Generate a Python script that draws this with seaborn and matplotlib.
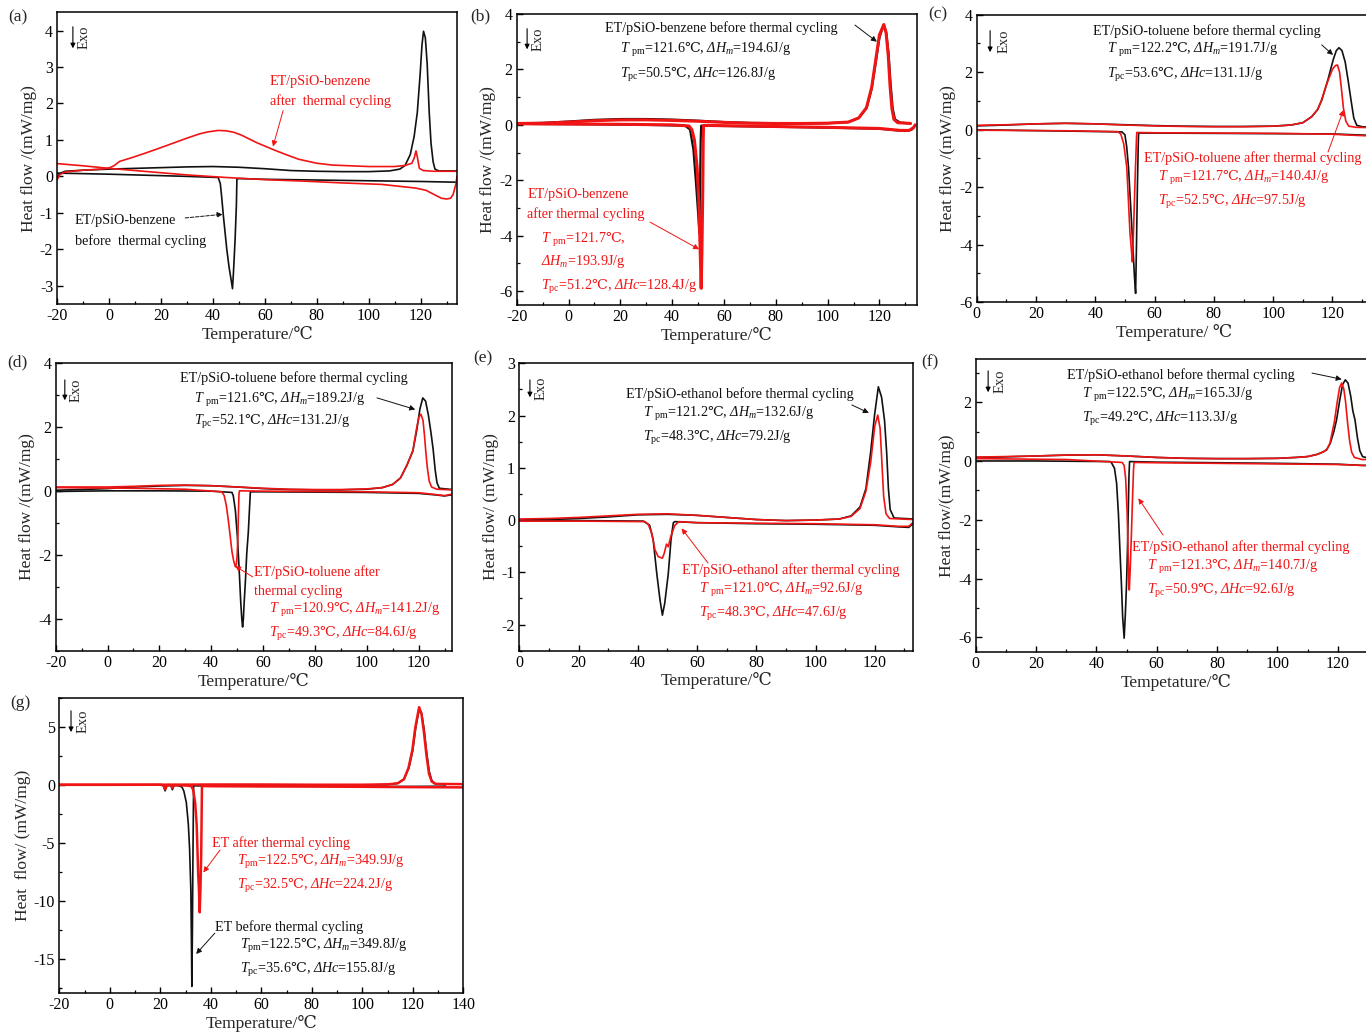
import matplotlib
matplotlib.use("Agg")
import matplotlib.pyplot as plt
from matplotlib.ticker import MultipleLocator
import seaborn as sns

# ---------------------------------------------------------------------------
# DSC traces, (temperature in degC, heat flow in mW/mg).
# "heat" = heating scan (melting peak up), "cool" = cooling scan (crystallisation dip).
# ---------------------------------------------------------------------------

# (a) ET/pSiO-benzene
a_black_heat = [(-20, -0.02), (-19, 0.08), (-17, 0.14), (-10, 0.17), (0, 0.2), (10, 0.22), (20, 0.24),
                (30, 0.26), (40, 0.27), (50, 0.25), (60, 0.21), (70, 0.16), (80, 0.14), (90, 0.13),
                (100, 0.13), (108, 0.15), (112, 0.2), (114, 0.3), (116, 0.6), (117.5, 1.1), (118.7, 1.75),
                (119.8, 2.8), (120.5, 3.6), (121.1, 3.98), (121.8, 3.8), (122.5, 3.1), (123.3, 1.75),
                (124.0, 0.9), (124.8, 0.4), (125.5, 0.2), (127, 0.15), (134, 0.15)]
a_black_cool = [(134, -0.16), (120, -0.14), (100, -0.12), (80, -0.1), (60, -0.08), (50, -0.06), (49.2, -0.07),
                (49.0, -0.8), (48.5, -1.73), (47.9, -2.6), (47.5, -3.08), (47.0, -2.85), (46.2, -2.5),
                (45.3, -2.0), (44.0, -1.09), (43.3, -0.54), (42.8, -0.2), (42.0, -0.03), (30, 0.0),
                (10, 0.04), (0, 0.06), (-20, 0.09)]
a_red_heat = [(-20, -0.08), (-19, 0.05), (-17, 0.12), (-10, 0.17), (-3, 0.2), (0, 0.23), (2, 0.3), (4, 0.41),
              (9, 0.52), (14, 0.64), (19.6, 0.78), (25, 0.92), (30, 1.05), (35, 1.17), (38, 1.22), (42, 1.26),
              (45, 1.25), (48, 1.21), (51, 1.13), (54.4, 1.01), (57, 0.92), (60, 0.83), (63, 0.74), (68, 0.6),
              (73, 0.47), (80, 0.36), (86, 0.31), (100, 0.27), (110, 0.27), (114, 0.3), (116.6, 0.36),
              (117.5, 0.5), (118.2, 0.7), (118.8, 0.5), (119.5, 0.22), (121, 0.16), (125, 0.14), (134, 0.14)]
a_red_cool = [(134, 0.0), (133.6, -0.2), (132.5, -0.5), (131.5, -0.6), (130, -0.62), (128, -0.6), (125, -0.49),
              (122, -0.38), (118, -0.32), (105, -0.22), (90, -0.18), (75, -0.13), (60, -0.09), (45, -0.03),
              (30, 0.04), (15, 0.13), (0, 0.22), (-10, 0.29), (-20, 0.35)]

# (b) ET/pSiO-benzene
b_black_heat = [(-20, 0.05), (-10, 0.07), (0, 0.12), (10, 0.18), (20, 0.21), (30, 0.21), (40, 0.19), (50, 0.15),
                (60, 0.1), (70, 0.07), (80, 0.06), (90, 0.05), (100, 0.06), (108, 0.1), (112, 0.25), (115, 0.6),
                (117, 1.3), (118.5, 2.2), (120, 3.15), (121.6, 3.6), (122.6, 3.35), (123.5, 2.6), (124.3, 1.5),
                (125.1, 0.6), (126, 0.2), (128, 0.08), (132, 0.05)]
b_black_cool = [(133.5, -0.05), (132.5, -0.17), (130, -0.22), (127, -0.2), (120, -0.14), (100, -0.1), (80, -0.07),
                (60, -0.04), (51.2, -0.03), (51.0, -0.6), (50.8, -2.0), (50.5, -3.9), (50.1, -3.3), (49.2, -2.09),
                (48.2, -0.89), (46.9, -0.17), (45, -0.03), (30, 0.0), (10, 0.02), (-10, 0.03), (-20, 0.04)]
b_red_heat = [(-20, 0.05), (-10, 0.06), (0, 0.1), (10, 0.15), (20, 0.18), (30, 0.18), (40, 0.16), (50, 0.13),
              (60, 0.09), (70, 0.06), (80, 0.05), (90, 0.05), (100, 0.06), (108, 0.1), (112, 0.25), (115, 0.62),
              (117, 1.35), (118.5, 2.3), (120, 3.25), (121.7, 3.62), (122.6, 3.3), (123.4, 2.5), (124.1, 1.4),
              (124.8, 0.6), (125.6, 0.2), (127, 0.08), (132, 0.05)]
b_red_cool = [(133.8, 0.0), (133.2, -0.1), (131.5, -0.2), (128, -0.2), (120, -0.13), (100, -0.09), (80, -0.06),
              (60, -0.03), (52.1, -0.02), (52.0, -0.5), (51.8, -2.5), (51.5, -4.5), (51.2, -5.9), (50.8, -4.5),
              (50.3, -2.8), (49.6, -1.5), (48.6, -0.55), (47.6, -0.17), (46.5, -0.04), (40, 0.0), (20, 0.02),
              (0, 0.03), (-20, 0.04)]

# (c) ET/pSiO-toluene
c_black_heat = [(0, 0.13), (10, 0.16), (20, 0.2), (30, 0.22), (40, 0.2), (50, 0.17), (60, 0.14), (70, 0.12),
                (80, 0.11), (90, 0.11), (100, 0.12), (106, 0.16), (110, 0.24), (113, 0.45), (115, 0.7),
                (116.4, 1.03), (118.5, 1.75), (120.3, 2.45), (121.3, 2.75), (122.2, 2.85), (123.2, 2.75),
                (124.3, 2.35), (125.3, 1.7), (126.3, 1.0), (127.2, 0.4), (128.2, 0.15), (130, 0.1), (133, 0.09)]
c_black_cool = [(133, -0.2), (125, -0.17), (120, -0.15), (100, -0.14), (80, -0.13), (60, -0.12), (54.6, -0.12),
                (54.5, -0.5), (54.2, -2.0), (53.9, -4.0), (53.6, -5.7), (53.2, -5.1), (52.6, -3.9), (51.9, -2.6),
                (51.2, -1.3), (50.6, -0.6), (50.0, -0.18), (49.0, -0.08), (30, -0.05), (10, -0.02), (0, -0.01)]
c_red_heat = [(0, 0.15), (10, 0.17), (20, 0.2), (30, 0.22), (40, 0.2), (50, 0.16), (60, 0.13), (70, 0.11),
              (80, 0.1), (90, 0.1), (100, 0.12), (106, 0.16), (110, 0.24), (113, 0.45), (115, 0.7), (116.2, 1.0),
              (118.3, 1.65), (120, 2.1), (121.0, 2.23), (121.7, 2.25), (122.4, 2.0), (123.0, 1.45), (123.7, 0.75),
              (124.5, 0.3), (125.5, 0.12), (128, 0.08), (133, 0.07)]
c_red_cool = [(133, -0.22), (128, -0.2), (120, -0.16), (100, -0.13), (80, -0.12), (60, -0.11), (54.0, -0.1),
              (53.9, -0.3), (53.4, -1.8), (52.9, -3.5), (52.5, -4.6), (52.2, -4.2), (51.7, -3.6), (51.1, -2.3),
              (50.6, -1.29), (49.6, -0.5), (48.6, -0.15), (47.5, -0.07), (30, -0.04), (0, -0.02)]

# (d) ET/pSiO-toluene
d_black_heat = [(-20, 0.02), (-10, 0.04), (0, 0.07), (10, 0.12), (20, 0.15), (30, 0.17), (40, 0.16), (50, 0.12),
                (60, 0.07), (70, 0.04), (80, 0.03), (90, 0.03), (100, 0.05), (106, 0.1), (110, 0.2), (113, 0.4),
                (115.5, 0.8), (117.8, 1.25), (119.3, 1.9), (120.5, 2.55), (121.6, 2.9), (122.7, 2.8),
                (123.8, 2.35), (124.8, 1.8), (125.6, 1.3), (126.4, 0.65), (127.1, 0.25), (128, 0.08), (133, 0.04)]
d_black_cool = [(133, -0.12), (130, -0.16), (127, -0.13), (120, -0.08), (100, -0.05), (80, -0.04), (60, -0.03),
                (55.1, -0.03), (54.8, -0.5), (54.3, -1.3), (53.7, -1.96), (53.2, -2.8), (52.7, -3.5), (52.4, -4.0),
                (52.1, -4.25), (51.8, -4.0), (51.4, -3.5), (50.8, -2.5), (50.1, -1.44), (49.3, -0.6),
                (48.5, -0.15), (48.0, -0.05), (40, -0.01), (20, 0.0), (0, 0.0), (-20, -0.02)]
d_red_heat = [(-20, 0.12), (-10, 0.12), (0, 0.12), (10, 0.14), (20, 0.17), (30, 0.18), (40, 0.16), (50, 0.12),
              (60, 0.08), (70, 0.05), (80, 0.04), (90, 0.04), (100, 0.06), (106, 0.1), (110, 0.2), (113, 0.4),
              (115.5, 0.8), (117.8, 1.25), (119.1, 1.9), (120.1, 2.3), (120.9, 2.39), (121.7, 2.2), (122.3, 1.7),
              (122.8, 1.2), (123.4, 0.7), (124.1, 0.3), (125, 0.12), (127, 0.05), (133, 0.03)]
d_red_cool = [(133, -0.1), (130, -0.15), (127, -0.12), (120, -0.06), (100, -0.03), (80, -0.02), (60, -0.01),
              (50.9, 0.0), (50.7, -0.1), (50.5, -0.7), (50.3, -1.4), (50.0, -2.0), (49.7, -2.3), (49.3, -2.37),
              (48.7, -2.2), (48.0, -1.9), (47.3, -1.4), (46.6, -0.92), (45.8, -0.45), (45.0, -0.15),
              (44.1, -0.03), (30, 0.05), (10, 0.08), (-20, 0.1)]

# (e) ET/pSiO-ethanol
e_black_heat = [(0, 0.0), (10, 0.01), (20, 0.03), (30, 0.06), (40, 0.1), (50, 0.11), (60, 0.09), (70, 0.05),
                (80, 0.01), (90, -0.01), (100, 0.0), (108, 0.02), (112, 0.08), (115, 0.25), (117, 0.6),
                (118.6, 1.3), (119.9, 2.0), (121.2, 2.55), (122.3, 2.35), (123.3, 1.9), (124.0, 1.3),
                (124.6, 0.6), (125.2, 0.2), (126.5, 0.04), (133, 0.02)]
e_black_cool = [(133, -0.06), (131.5, -0.14), (128, -0.13), (120, -0.1), (100, -0.08), (80, -0.07), (60, -0.05),
                (52.5, -0.03), (52.0, -0.05), (51.2, -0.38), (50.3, -1.02), (49.1, -1.59), (48.3, -1.82),
                (47.5, -1.53), (46.4, -1.02), (45.2, -0.38), (44.0, -0.1), (41.9, -0.02), (20, -0.01), (0, -0.01)]
e_red_heat = [(0, 0.02), (10, 0.03), (20, 0.05), (30, 0.08), (40, 0.11), (50, 0.12), (60, 0.09), (70, 0.05),
              (80, 0.01), (90, -0.01), (100, 0.0), (108, 0.02), (112, 0.07), (115, 0.22), (117, 0.55),
              (118.6, 1.1), (120.0, 1.8), (121.0, 2.01), (121.8, 1.75), (122.4, 1.1), (123, 0.45), (123.8, 0.12),
              (125, 0.03), (133, 0.01)]
e_red_cool = [(133, -0.04), (131.5, -0.12), (128, -0.12), (120, -0.09), (100, -0.07), (80, -0.06), (60, -0.05),
              (53.9, -0.03), (52.5, -0.1), (51.1, -0.32), (50.3, -0.51), (49.7, -0.46), (48.9, -0.64),
              (48.3, -0.73), (46.9, -0.7), (45.8, -0.57), (44.7, -0.25), (43.5, -0.08), (42.4, -0.03),
              (20, -0.02), (0, -0.02)]

# (f) ET/pSiO-ethanol
f_black_heat = [(0, 0.12), (10, 0.14), (20, 0.17), (30, 0.2), (40, 0.21), (50, 0.17), (60, 0.12), (70, 0.09),
                (80, 0.08), (90, 0.08), (100, 0.09), (106, 0.12), (110, 0.15), (113, 0.22), (115, 0.3),
                (116.3, 0.38), (117.5, 0.6), (118.7, 1.0), (119.6, 1.4), (120.7, 2.1), (121.6, 2.6),
                (122.5, 2.76), (123.4, 2.65), (124.3, 2.2), (125.0, 1.7), (125.7, 1.4), (126.5, 0.8),
                (127.3, 0.35), (128.2, 0.15), (130, 0.1), (133, 0.08)]
f_black_cool = [(133, -0.15), (128, -0.15), (120, -0.11), (100, -0.08), (80, -0.06), (60, -0.04), (51.0, -0.02),
                (50.8, -0.5), (50.6, -1.5), (50.3, -3.0), (50.0, -4.16), (49.6, -5.2), (49.2, -6.03), (48.7, -5.3),
                (48.3, -4.2), (47.8, -3.03), (47.3, -1.8), (46.7, -0.76), (46.0, -0.25), (45.0, -0.06),
                (44.5, -0.02), (20, 0.0), (0, 0.0)]
f_red_heat = [(0, 0.13), (10, 0.15), (20, 0.17), (30, 0.2), (40, 0.21), (50, 0.17), (60, 0.12), (70, 0.09),
              (80, 0.08), (90, 0.08), (100, 0.09), (106, 0.12), (110, 0.15), (113, 0.22), (115, 0.3),
              (116.3, 0.38), (117.4, 0.6), (118.2, 1.0), (118.9, 1.35), (119.8, 2.0), (120.6, 2.5), (121.3, 2.65),
              (122.0, 2.45), (122.6, 2.0), (123.2, 1.35), (123.9, 0.7), (124.6, 0.3), (125.5, 0.12), (128, 0.05),
              (133, 0.04)]
f_red_cool = [(133, -0.17), (128, -0.15), (120, -0.12), (100, -0.1), (80, -0.08), (60, -0.06), (52.5, -0.05),
              (52.3, -0.3), (52.0, -1.2), (51.6, -2.5), (51.2, -3.7), (50.9, -4.39), (50.6, -3.5), (50.2, -1.8),
              (49.7, -0.6), (49.2, -0.15), (48.5, -0.05), (30, 0.05), (0, 0.08)]

# (g) pure ET
g_black_heat = [(-20, 0.0), (0, 0.0), (20, 0.0), (40, 0.02), (60, 0.02), (80, 0.0), (100, 0.0), (110, 0.05),
                (114, 0.15), (116.5, 0.5), (118.5, 1.5), (120.0, 3.0), (121.2, 5.0), (122.5, 6.5), (123.5, 6.2),
                (124.5, 4.8), (125.5, 2.8), (126.5, 1.2), (127.5, 0.4), (129, 0.1), (133, 0.05)]
g_black_cool = [(133, -0.1), (120, -0.12), (100, -0.12), (80, -0.1), (60, -0.1), (40, -0.08), (33.2, -0.06),
                (33.1, -2.0), (32.9, -7.0), (32.7, -13.0), (32.5, -17.4), (32.3, -13.0), (32.1, -9.14),
                (31.6, -5.5), (31.1, -3.37), (30.3, -1.5), (29.3, -0.5), (28.5, -0.15), (27, -0.05),
                (25.4, -0.05), (24.8, -0.4), (24.2, -0.05), (22.6, -0.05), (21.9, -0.5), (21.2, -0.05),
                (20, 0.0), (0, 0.0), (-20, 0.0)]
g_red_heat = [(-20, 0.02), (0, 0.02), (20, 0.03), (40, 0.05), (60, 0.05), (80, 0.03), (100, 0.03), (110, 0.06),
              (114, 0.15), (116.5, 0.5), (118.3, 1.5), (119.8, 3.0), (121.0, 5.0), (122.5, 6.73), (123.4, 6.2),
              (124.4, 4.6), (125.4, 2.6), (126.4, 1.0), (127.5, 0.3), (129, 0.1), (140, 0.08)]
g_red_cool = [(140, -0.2), (120, -0.18), (100, -0.15), (80, -0.13), (60, -0.12), (40, -0.1), (36.5, -0.08),
              (36.4, -2.0), (36.2, -6.0), (35.9, -9.0), (35.6, -11.0), (35.3, -9.0), (35.0, -7.7), (34.7, -5.5),
              (34.4, -3.4), (33.8, -1.5), (33.0, -0.4), (32.3, -0.1), (31, -0.05), (25.4, 0.0), (24.8, -0.25),
              (24.2, 0.0), (22.6, 0.0), (21.9, -0.35), (21.2, 0.0), (20, 0.03), (0, 0.03), (-20, 0.03)]

# ---------------------------------------------------------------------------
sns.set_theme(style="ticks")
SERIF = ["Liberation Serif", "DejaVu Serif", "DejaVu Sans"]
plt.rcParams.update({
    "font.family": SERIF,
    # math fonts: the upright slot is italic so that the capital Delta slants
    # like the other symbols; upright subscripts use the "bf" slot (regular face)
    "mathtext.fontset": "custom",
    "mathtext.rm": "Liberation Serif:italic",
    "mathtext.it": "Liberation Serif:italic",
    "mathtext.bf": "Liberation Serif",
    "mathtext.sf": "DejaVu Serif",
    "mathtext.fallback": "stix",
    "axes.unicode_minus": False,
    "axes.edgecolor": "black",
    "axes.linewidth": 1.1,
    "xtick.direction": "in",
    "ytick.direction": "in",
    "xtick.color": "black",
    "ytick.color": "black",
    "xtick.major.size": 4,
    "ytick.major.size": 4,
    "xtick.minor.size": 2.5,
    "ytick.minor.size": 2.5,
    "xtick.major.width": 1.0,
    "ytick.major.width": 1.0,
    "xtick.minor.width": 0.9,
    "ytick.minor.width": 0.9,
})

BLACK = "#111111"
RED = "#f01414"
CEL = r"$\mathsf{℃}$"
W, H = 1366, 1033
fig = plt.figure(figsize=(W / 100, H / 100), dpi=100)


def make_axes(left, right, top, bottom):
    return fig.add_axes([left / W, 1 - bottom / H, (right - left) / W, (bottom - top) / H])


def trace(ax, pts, color, lw=1.2):
    t, hf = zip(*pts)
    sns.lineplot(x=list(t), y=list(hf), sort=False, estimator=None, color=color,
                 lw=lw, ax=ax, legend=False)


def style(ax, xlim, ylim, xmaj, ymaj, ymin, xlabel, ylabel):
    ax.set_xlim(*xlim)
    ax.set_ylim(*ylim)
    ax.xaxis.set_major_locator(MultipleLocator(xmaj))
    ax.xaxis.set_minor_locator(MultipleLocator(xmaj / 2))
    ax.yaxis.set_major_locator(MultipleLocator(ymaj))
    if ymin:
        ax.yaxis.set_minor_locator(MultipleLocator(ymin))
    ax.tick_params(labelsize=11.5, pad=3)
    ax.set_xlabel(xlabel, fontsize=12.5, labelpad=1)
    ax.set_ylabel(ylabel, fontsize=12.5, labelpad=2)
    for s in ax.spines.values():
        s.set_visible(True)
        s.set_color("black")


def exo(ax, fx, ftop, fbot, ftx):
    ax.annotate("", xy=(fx, fbot), xytext=(fx, ftop), xycoords="axes fraction",
                arrowprops=dict(arrowstyle="-|>", color="black", lw=0.8, mutation_scale=7))
    ax.text(ftx, (ftop + fbot) / 2, "Exo", transform=ax.transAxes, rotation=90,
            ha="center", va="center", fontsize=10.5)


def lines(ax, items, color):
    for fx, fy, s in items:
        ax.text(fx, fy, s, transform=ax.transAxes, color=color, fontsize=10.2,
                ha="left", va="center")


def pointer(ax, tip, start, color, ls="-"):
    ax.annotate("", xy=tip, xycoords="data", xytext=start, textcoords="axes fraction",
                arrowprops=dict(arrowstyle="-|>", color=color, lw=0.7, ls=ls,
                                mutation_scale=8, shrinkA=0, shrinkB=0))


def tpm(v, space=True):
    sp = r"\ " if space else ""
    return r"$T" + sp + r"_{\mathbf{pm}}$=" + v + CEL + ","


def tpc(v):
    return r"$T_{\mathbf{pc}}$=" + v + CEL + ","


def props(tpm_v, hm, tpc_v, hc, space=True):
    return (tpm(tpm_v, space) + r" $\Delta H_m$=" + hm + "J/g",
            tpc(tpc_v) + r" $\Delta Hc$=" + hc + "J/g")


TX = "Temperature/℃"
HF = "Heat flow /(mW/mg)"

# ---------------- (a)
ax = make_axes(57.3, 457, 12.3, 304)
trace(ax, a_black_heat, BLACK)
trace(ax, a_black_cool, BLACK)
trace(ax, a_red_heat, RED)
trace(ax, a_red_cool, RED)
style(ax, (-20, 134), (-3.5, 4.5), 20, 1, None, TX, HF)
exo(ax, 0.039, 0.96, 0.867, 0.067)
lines(ax, [(0.532, 0.764, "ET/pSiO-benzene"), (0.532, 0.696, "after  thermal cycling")], RED)
pointer(ax, (63.1, 0.82), (0.565, 0.663), RED)
lines(ax, [(0.044, 0.285, "ET/pSiO-benzene"), (0.044, 0.216, "before  thermal cycling")], BLACK)
pointer(ax, (43.7, -1.04), (0.32, 0.295), BLACK, ls="--")

# ---------------- (b)
ax = make_axes(516.7, 917, 14, 305)
trace(ax, b_black_heat, BLACK, 1.6)
trace(ax, b_black_cool, BLACK, 1.6)
trace(ax, b_red_heat, RED, 2.2)
trace(ax, b_red_cool, RED, 2.2)
style(ax, (-20, 134.5), (-6.5, 4), 20, 2, 1, TX, HF)
exo(ax, 0.026, 0.959, 0.869, 0.053)
l2, l3 = props("121.6", "194.6", "50.5", "126.8")
lines(ax, [(0.221, 0.952, "ET/pSiO-benzene before thermal cycling"), (0.258, 0.876, l2), (0.258, 0.790, l3)], BLACK)
pointer(ax, (119.0, 3.0), (0.845, 0.962), BLACK)
lines(ax, [(0.026, 0.381, "ET/pSiO-benzene"), (0.026, 0.313, "after thermal cycling"),
           (0.061, 0.223, tpm("121.7")),
           (0.061, 0.151, r"$\Delta H_m$=193.9J/g"),
           (0.061, 0.062, tpc("51.2") + r" $\Delta Hc$=128.4J/g")], RED)
pointer(ax, (50.4, -4.49), (0.333, 0.285), RED)

# ---------------- (c)
ax = make_axes(976.7, 1371, 14.7, 302)
trace(ax, c_black_heat, BLACK)
trace(ax, c_black_cool, BLACK)
trace(ax, c_red_heat, RED)
trace(ax, c_red_cool, RED)
style(ax, (0, 133), (-6, 4), 20, 2, 1, "Temperature/ ℃", HF)
exo(ax, 0.034, 0.954, 0.86, 0.069)
l2, l3 = props("122.2", "191.7", "53.6", "131.1")
lines(ax, [(0.295, 0.943, "ET/pSiO-toluene before thermal cycling"), (0.330, 0.877, l2), (0.330, 0.790, l3)], BLACK)
pointer(ax, (120.2, 2.6), (0.875, 0.895), BLACK)
l2, l3 = props("121.7", "140.4", "52.5", "97.5")
lines(ax, [(0.424, 0.501, "ET/pSiO-toluene after thermal cycling"), (0.46, 0.432, l2), (0.46, 0.348, l3)], RED)
pointer(ax, (123.7, 0.68), (0.891, 0.522), RED)

# ---------------- (d)
ax = make_axes(55.7, 452.3, 362.7, 651)
trace(ax, d_black_heat, BLACK)
trace(ax, d_black_cool, BLACK)
trace(ax, d_red_heat, RED)
trace(ax, d_red_cool, RED)
style(ax, (-20, 133), (-5, 4), 20, 2, 1, TX, HF)
exo(ax, 0.023, 0.95, 0.86, 0.051)
l2, l3 = props("121.6", "189.2", "52.1", "131.2")
lines(ax, [(0.313, 0.947, "ET/pSiO-toluene before thermal cycling"), (0.349, 0.871, l2), (0.349, 0.794, l3)], BLACK)
pointer(ax, (118.7, 2.54), (0.81, 0.878), BLACK)
l2, l3 = props("120.9", "141.2", "49.3", "84.6")
lines(ax, [(0.5, 0.274, "ET/pSiO-toluene after"), (0.5, 0.208, "thermal cycling"),
           (0.538, 0.142, l2), (0.538, 0.059, l3)], RED)
pointer(ax, (49.2, -2.35), (0.497, 0.257), RED)

# ---------------- (e)
ax = make_axes(519.3, 913.3, 363.3, 650.7)
trace(ax, e_black_heat, BLACK)
trace(ax, e_black_cool, BLACK)
trace(ax, e_red_heat, RED)
trace(ax, e_red_cool, RED)
style(ax, (0, 133), (-2.5, 3), 20, 1, 0.5, TX, "Heat flow/ (mW/mg)")
exo(ax, 0.027, 0.952, 0.872, 0.055)
l2, l3 = props("121.2", "132.6", "48.3", "79.2")
lines(ax, [(0.271, 0.893, "ET/pSiO-ethanol before thermal cycling"), (0.314, 0.824, l2), (0.314, 0.740, l3)], BLACK)
pointer(ax, (118.0, 2.05), (0.844, 0.855), BLACK)
l2, l3 = props("121.0", "92.6", "48.3", "47.6")
lines(ax, [(0.412, 0.280, "ET/pSiO-ethanol after thermal cycling"), (0.456, 0.211, l2), (0.456, 0.127, l3)], RED)
pointer(ax, (54.8, -0.16), (0.479, 0.305), RED)

# ---------------- (f)
ax = make_axes(975.7, 1377, 359, 652)
trace(ax, f_black_heat, BLACK)
trace(ax, f_black_cool, BLACK)
trace(ax, f_red_heat, RED)
trace(ax, f_red_cool, RED)
style(ax, (0, 133), (-6.5, 3.47), 20, 2, 1, "Tempetature/℃", "Heat flow/(mW/mg)")
exo(ax, 0.031, 0.969, 0.877, 0.06)
l2, l3 = props("122.5", "165.3", "49.2", "113.3")
lines(ax, [(0.2275, 0.945, "ET/pSiO-ethanol before thermal cycling"), (0.265, 0.877, l2), (0.265, 0.795, l3)], BLACK)
pointer(ax, (121.3, 2.78), (0.838, 0.952), BLACK)
l2, l3 = props("121.3", "140.7", "50.9", "92.6")
lines(ax, [(0.39, 0.358, "ET/pSiO-ethanol after thermal cycling"), (0.427, 0.29, l2), (0.427, 0.208, l3)], RED)
pointer(ax, (53.9, -1.27), (0.467, 0.399), RED)

# ---------------- (g)
ax = make_axes(59.3, 463.3, 698.3, 993.3)
trace(ax, g_black_heat, BLACK)
trace(ax, g_black_cool, BLACK)
trace(ax, g_red_heat, RED, 1.8)
trace(ax, g_red_cool, RED, 1.8)
style(ax, (-20, 140), (-18, 7.5), 20, 5, 2.5, TX, "Heat  flow/ (mW/mg)")
exo(ax, 0.029, 0.967, 0.876, 0.059)
l2, l3 = props("122.5", "349.9", "32.5", "224.2", space=False)
lines(ax, [(0.378, 0.510, "ET after thermal cycling"), (0.44, 0.445, l2), (0.44, 0.364, l3)], RED)
pointer(ax, (37.05, -7.55), (0.398, 0.486), RED)
l2, l3 = props("122.5", "349.8", "35.6", "155.8", space=False)
lines(ax, [(0.385, 0.225, "ET before thermal cycling"), (0.447, 0.161, l2), (0.447, 0.079, l3)], BLACK)
pointer(ax, (34.2, -14.6), (0.385, 0.204), BLACK)

# panel letters
for letter, px, py in [("(a)", 18, 17), ("(b)", 480, 16), ("(c)", 938, 14), ("(d)", 17, 362),
                       ("(e)", 483, 358), ("(f)", 930, 362), ("(g)", 20, 703)]:
    fig.text(px / W, 1 - py / H, letter, fontsize=12.5, ha="center", va="center")

fig.savefig("out.png", dpi=100)
